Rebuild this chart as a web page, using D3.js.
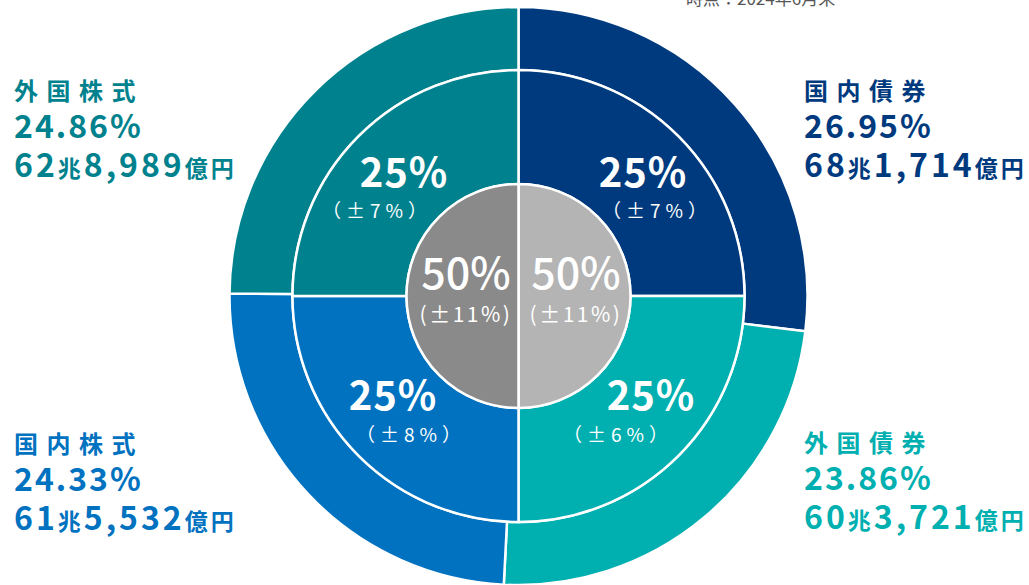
<!DOCTYPE html>
<html><head><meta charset="utf-8">
<script src="https://cdn.jsdelivr.net/npm/d3@7/dist/d3.min.js"></script>
<style>
html,body{margin:0;padding:0;background:#fff;}
svg{display:block;}
text{font-family:"Noto Sans CJK JP","Noto Sans",sans-serif;}
</style></head>
<body>
<svg id="chart" width="1029" height="585"></svg>
<script>
// ---- data ----
const categories = ["国内債券","外国債券","国内株式","外国株式"];
const shares = [26.95, 23.86, 24.33, 24.86];
const amountCho = ["68","60","61","62"];
const amountOku = ["1,714","3,721","5,532","8,989"];
const targets = [25, 25, 25, 25];
const ranges = [7, 6, 8, 7];
const groupLabels = ["債券","株式"];
const groupTargets = [50, 50];
const groupRanges = [11, 11];
const asOf = "時点：2024年6月末";

// ---- style ----
const colors = ["#003a7e","#00afb0","#0072c0","#00828e"];
const grayColors = ["#b4b4b4","#8a8a8a"];
const cx = 518.5, cy = 296;
const rOuter = 289, rMid = 226, rInner = 112;

const svg = d3.select("#chart");
const g = svg.append("g").attr("transform",`translate(${cx},${cy})`);
const pie = d3.pie().sort(null).value(d=>d);

// outer ring: actual shares
const outerArc = d3.arc().innerRadius(rMid).outerRadius(rOuter);
g.selectAll(".outer").data(pie(shares)).join("path")
  .attr("d", outerArc).attr("fill",(d,i)=>colors[i])
  .attr("stroke","#fff").attr("stroke-width",2.5);

// middle ring: policy targets
const midArc = d3.arc().innerRadius(rInner).outerRadius(rMid);
g.selectAll(".mid").data(pie(targets)).join("path")
  .attr("d", midArc).attr("fill",(d,i)=>colors[i])
  .attr("stroke","#fff").attr("stroke-width",2.5);

// inner: bonds / stocks
const innerArc = d3.arc().innerRadius(0).outerRadius(rInner);
g.selectAll(".inner").data(pie(groupTargets)).join("path")
  .attr("d", innerArc).attr("fill",(d,i)=>grayColors[i])
  .attr("stroke","#fff").attr("stroke-width",2.5);

// middle ring labels
const midPos = [[643,[657,218]],[651,[618,442]],[393,[411,442]],[404,[377,218]]];
const midY = [187,410,410,187];
targets.forEach((t,i)=>{
  svg.append("text").attr("x",midPos[i][0]).attr("y",midY[i])
    .attr("text-anchor","middle").attr("fill","#fff")
    .attr("font-size",40).attr("font-weight",700).attr("letter-spacing",1)
    .text(t+"%");
  svg.append("text").attr("x",midPos[i][1][0]).attr("y",midPos[i][1][1])
    .attr("text-anchor","middle").attr("fill","#fff")
    .attr("font-size",19).attr("letter-spacing",5)
    .text("（±"+ranges[i]+"%）");
});

// inner labels
const innerX = [576, 466];
groupTargets.forEach((t,i)=>{
  svg.append("text").attr("x",innerX[i]).attr("y",289)
    .attr("text-anchor","middle").attr("fill","#fff")
    .attr("font-size",43).attr("font-weight",500)
    .text(t+"%");
  svg.append("text").attr("x",innerX[i]).attr("y",322)
    .attr("text-anchor","middle").attr("fill","#fff")
    .attr("font-size",21).attr("letter-spacing",2.5)
    .text("(±"+groupRanges[i]+"%)");
});

// side labels
const sidePos = [[804,100],[804,452],[14,453],[14,100]];
categories.forEach((c,i)=>{
  const [x,y] = sidePos[i];
  const col = colors[i];
  svg.append("text").attr("x",x).attr("y",y).attr("fill",col)
    .attr("font-size",24).attr("font-weight",700).attr("letter-spacing",8.5)
    .text(c);
  svg.append("text").attr("x",x).attr("y",y+38).attr("fill",col)
    .attr("font-size",32).attr("font-weight",700).attr("letter-spacing",2)
    .text(shares[i].toFixed(2)+"%");
  const t = svg.append("text").attr("x",x).attr("y",y+77).attr("fill",col)
    .attr("font-weight",700).attr("letter-spacing",3);
  t.append("tspan").attr("font-size",32).text(amountCho[i]);
  t.append("tspan").attr("font-size",23).text("兆");
  t.append("tspan").attr("font-size",32).text(amountOku[i]);
  t.append("tspan").attr("font-size",23).text("億円");
});

svg.append("text").attr("x",686).attr("y",5).attr("fill","#555")
  .attr("font-size",17).text(asOf);
</script>
</body></html>
